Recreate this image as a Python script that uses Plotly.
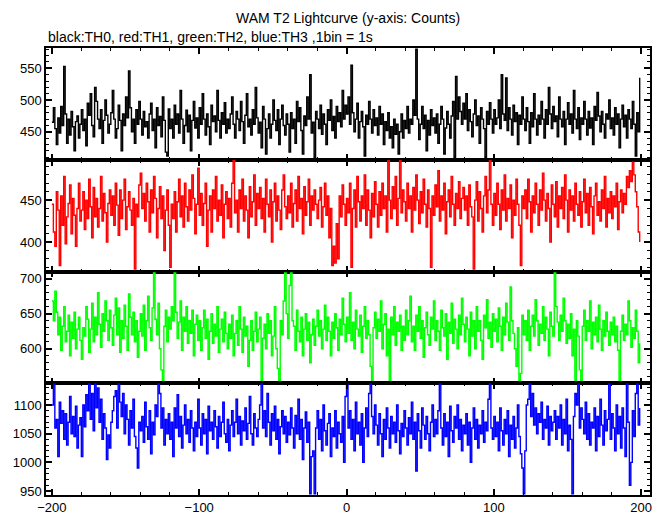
import plotly.graph_objects as go
from plotly.subplots import make_subplots

time_s = list(range(-200, 200))

th0 = [
465, 488, 455, 430, 472, 448, 490, 460, 553, 478, 432, 470, 445, 482, 458, 420, 466, 475, 440, 462,
485, 452, 470, 428, 495, 476, 510, 460, 442, 520, 498, 470, 455, 485, 432, 468, 500, 476, 448, 462,
480, 515, 470, 440, 455, 492, 468, 420, 478, 460, 505, 472, 546, 488, 450, 470, 432, 485, 462, 498,
470, 445, 482, 458, 466, 440, 478, 495, 452, 470, 425, 488, 460, 474, 442, 505, 468, 418, 412, 486,
455, 470, 440, 492, 462, 478, 448, 515, 470, 432, 460, 484, 450, 476, 420, 468, 498, 456, 472, 440,
488, 462, 510, 470, 445, 478, 458, 430, 492, 466, 475, 450, 515, 468, 440, 480, 462, 496, 448, 470,
455, 478, 505, 462, 440, 482, 470, 452, 498, 466, 432, 476, 510, 458, 470, 445, 485, 462, 520, 472,
448, 465, 425, 490, 470, 415, 455, 478, 440, 462, 500, 468, 452, 485, 430, 470, 492, 460, 445, 478,
462, 418, 480, 455, 470, 432, 498, 466, 488, 452, 415, 475, 460, 505, 470, 540, 448, 465, 410, 482,
470, 455, 492, 446, 478, 462, 430, 485, 468, 500, 452, 474, 440, 490, 466, 480, 458, 515, 470, 492,
478, 505, 462, 555, 480, 450, 470, 495, 440, 466, 482, 458, 412, 476, 462, 498, 470, 448, 485, 460,
472, 445, 490, 462, 478, 430, 466, 452, 480, 440, 458, 425, 470, 446, 462, 415, 450, 478, 440, 468,
455, 490, 448, 470, 462, 500, 476, 580, 470, 438, 462, 490, 455, 476, 420, 468, 445, 485, 460, 472,
448, 478, 432, 462, 490, 470, 415, 456, 482, 462, 440, 475, 498, 410, 537, 470, 505, 482, 462, 495,
470, 510, 452, 485, 466, 442, 478, 500, 460, 475, 432, 488, 470, 455, 410, 482, 462, 496, 470, 448,
485, 462, 472, 500, 455, 540, 478, 468, 535, 452, 488, 470, 445, 492, 466, 480, 430, 476, 462, 505,
470, 452, 488, 466, 432, 480, 458, 510, 470, 445, 476, 462, 498, 470, 440, 485, 462, 520, 478, 455,
490, 466, 475, 442, 505, 470, 458, 482, 430, 470, 496, 462, 478, 448, 515, 470, 455, 488, 438, 472,
462, 498, 470, 445, 482, 456, 472, 430, 490, 468, 512, 475, 450, 482, 462, 440, 478, 470, 500, 455,
472, 445, 488, 462, 478, 425, 470, 492, 458, 476, 440, 485, 470, 455, 498, 462, 412, 480, 450, 535,
]

th1 = [
445, 412, 395, 460, 438, 372, 455, 420, 478, 398, 430, 446, 468, 410, 452, 432, 395, 440, 470, 425,
438, 460, 415, 450, 428, 475, 442, 405, 465, 430, 452, 418, 440, 478, 425, 458, 435, 400, 446, 462,
432, 455, 420, 470, 444, 408, 462, 428, 450, 475, 415, 442, 460, 438, 420, 452, 368, 445, 430, 468,
482, 440, 458, 425, 470, 448, 412, 462, 435, 478, 452, 405, 440, 466, 428, 455, 390, 438, 462, 420,
370, 445, 428, 460, 412, 448, 475, 430, 455, 418, 470, 442, 425, 462, 438, 480, 452, 410, 445, 488,
432, 458, 420, 446, 470, 395, 438, 455, 412, 462, 440, 478, 425, 450, 432, 468, 405, 445, 460, 428,
452, 418, 470, 498, 435, 450, 412, 462, 440, 475, 425, 455, 438, 405, 466, 430, 448, 480, 420, 458,
440, 465, 428, 452, 412, 475, 445, 430, 462, 400, 448, 470, 425, 455, 438, 415, 462, 480, 442, 428,
455, 435, 470, 418, 446, 462, 425, 478, 440, 452, 410, 466, 432, 448, 475, 420, 455, 438, 462, 445,
428, 450, 465, 418, 442, 470, 432, 455, 405, 440, 372, 395, 375, 422, 380, 455, 430, 468, 445, 420,
452, 435, 470, 370, 440, 462, 418, 478, 448, 425, 455, 440, 480, 420, 462, 438, 405, 458, 430, 472,
445, 418, 460, 432, 470, 440, 455, 412, 498, 450, 428, 466, 440, 478, 420, 452, 498, 435, 462, 448,
425, 470, 440, 455, 412, 465, 438, 480, 450, 422, 460, 435, 475, 445, 418, 462, 440, 370, 455, 432,
468, 442, 485, 425, 455, 438, 470, 410, 448, 462, 430, 478, 445, 420, 458, 440, 472, 428, 452, 465,
438, 455, 420, 468, 442, 430, 368, 450, 472, 425, 460, 440, 412, 455, 478, 435, 462, 498, 445, 420,
458, 432, 470, 445, 415, 462, 438, 480, 425, 452, 440, 468, 405, 450, 432, 475, 445, 420, 372, 455,
440, 462, 428, 475, 448, 412, 455, 435, 470, 445, 420, 462, 438, 482, 450, 425, 458, 440, 400, 468,
445, 430, 472, 418, 455, 440, 465, 428, 480, 450, 412, 462, 438, 455, 425, 470, 445, 432, 460, 418,
448, 475, 435, 458, 420, 465, 442, 410, 455, 470, 432, 448, 425, 462, 440, 478, 418, 452, 435, 460,
428, 455, 442, 470, 415, 448, 462, 435, 458, 445, 478, 465, 485, 472, 495, 480, 460, 442, 412, 400,
]

th2 = [
668, 640, 682, 652, 620, 645, 598, 632, 660, 610, 625, 648, 590, 638, 615, 652, 600, 628, 645, 612,
585, 630, 618, 660, 642, 595, 628, 665, 610, 645, 620, 680, 635, 602, 650, 625, 668, 640, 612, 655,
630, 605, 648, 672, 620, 658, 595, 640, 615, 662, 632, 598, 678, 645, 620, 652, 610, 640, 588, 625,
650, 618, 662, 598, 640, 675, 630, 612, 658, 708, 642, 620, 665, 600, 570, 555, 632, 655, 610, 645,
628, 660, 640, 708, 652, 615, 638, 668, 598, 645, 625, 660, 608, 640, 622, 655, 590, 635, 648, 612,
640, 598, 630, 655, 615, 642, 585, 625, 650, 608, 635, 618, 660, 595, 628, 642, 610, 652, 622, 600,
635, 615, 648, 590, 622, 640, 605, 660, 628, 595, 645, 618, 632, 575, 612, 640, 598, 625, 652, 610,
628, 645, 555, 615, 635, 600, 650, 622, 640, 590, 618, 660, 600, 572, 555, 640, 620, 668, 708, 650,
615, 690, 708, 640, 632, 598, 655, 625, 610, 645, 590, 628, 650, 612, 638, 580, 620, 642, 605, 632,
655, 618, 640, 600, 628, 662, 612, 645, 625, 590, 638, 615, 650, 630, 598, 642, 620, 672, 635, 610,
645, 622, 680, 612, 638, 600, 655, 628, 618, 648, 595, 632, 660, 615, 640, 620, 575, 555, 630, 652,
615, 642, 625, 668, 600, 635, 650, 590, 628, 555, 645, 620, 660, 605, 638, 625, 648, 598, 632, 612,
655, 620, 640, 675, 610, 632, 598, 648, 625, 660, 615, 640, 588, 630, 652, 620, 605, 645, 628, 668,
612, 640, 625, 598, 655, 630, 618, 650, 585, 638, 622, 665, 608, 642, 628, 600, 648, 620, 672, 635,
610, 645, 628, 590, 652, 618, 640, 600, 660, 625, 640, 612, 585, 648, 630, 670, 615, 638, 602, 650,
625, 642, 610, 658, 632, 598, 645, 620, 665, 638, 612, 688, 640, 622, 600, 575, 630, 555, 565, 648,
620, 640, 612, 655, 598, 632, 648, 618, 670, 640, 605, 635, 622, 660, 612, 645, 628, 590, 652, 632,
618, 708, 660, 638, 612, 648, 625, 672, 640, 608, 635, 615, 650, 590, 628, 555, 640, 618, 570, 555,
632, 655, 612, 640, 625, 668, 600, 638, 620, 645, 610, 662, 628, 598, 640, 618, 652, 625, 605, 638,
620, 645, 610, 632, 598, 555, 625, 648, 612, 635, 620, 668, 640, 602, 630, 615, 655, 625, 580, 608,
]

th3 = [
1100, 1138, 1060, 1075, 1010, 1105, 1068, 1090, 1040, 1085, 1030, 1070, 1115, 1050, 1080, 1045, 1098, 1025, 1065, 1078,
1010, 1100, 1062, 1118, 1090, 1138, 1075, 1120, 1055, 1138, 1095, 1130, 1070, 1110, 1040, 1085, 1060, 1005, 1048, 1025,
1070, 1090, 1115, 1125, 1060, 1138, 1105, 1080, 1120, 1050, 1100, 1075, 1030, 1090, 1060, 1110, 1045, 1025, 990, 1070,
1055, 1080, 1035, 1105, 1062, 1040, 1090, 1015, 1070, 1048, 1100, 1080, 1138, 1120, 1060, 1095, 1030, 1075, 1050, 1085,
1040, 1070, 1010, 1095, 1060, 1118, 1045, 1080, 1025, 1065, 1100, 1050, 1075, 1035, 1090, 1060, 1020, 1070, 1045, 1110,
1060, 1030, 1085, 1050, 1075, 1015, 1098, 1055, 1070, 1040, 1090, 1062, 1025, 1080, 1045, 1070, 1105, 1050, 1035, 1075,
1020, 1065, 1090, 1045, 1070, 1110, 1050, 1080, 1030, 1072, 1055, 1095, 1040, 1068, 1115, 1050, 1030, 1085, 1060, 1045,
1075, 1100, 1138, 1060, 1090, 1045, 1120, 1070, 1030, 1085, 1055, 1098, 1040, 1075, 1015, 1062, 1090, 1050, 1080, 1035,
1070, 1048, 1095, 1060, 1025, 1082, 1050, 1110, 1040, 1075, 1005, 1060, 1088, 1035, 1070, 945, 1010, 1020, 945, 1060,
1090, 1040, 1075, 1020, 1100, 1055, 1030, 1068, 1085, 1010, 1060, 1045, 1090, 1025, 1070, 1050, 1035, 1080, 1000, 1115,
1138, 1060, 1090, 1040, 1075, 1020, 1105, 1050, 1070, 1030, 1085, 1000, 1060, 1095, 1045, 1120, 1138, 1080, 1050, 1100,
1065, 1030, 1085, 1050, 1010, 1075, 1040, 1095, 1060, 1025, 1080, 1050, 1070, 1035, 1100, 1055, 1015, 1068, 1045, 1090,
1060, 1030, 1078, 1050, 1105, 1040, 1070, 985, 1085, 1055, 1025, 1095, 1065, 1040, 1080, 1050, 1020, 1070, 1100, 1045,
1075, 1050, 1090, 1138, 1060, 1030, 1085, 1045, 1070, 1010, 1098, 1055, 1035, 1080, 1060, 1100, 1040, 1075, 1020, 1065,
1050, 1085, 1030, 1070, 1000, 1060, 1095, 1040, 1075, 1025, 1065, 1050, 1090, 1035, 1070, 1055, 1110, 1138, 1060, 1040,
1080, 1045, 1070, 1020, 1095, 1055, 1030, 1075, 1050, 1090, 1010, 1065, 1040, 1080, 1025, 1060, 1100, 1045, 1015, 990,
945, 1020, 1100, 1110, 1138, 1080, 1120, 1065, 1095, 1050, 1085, 1070, 1105, 1040, 1075, 1060, 1098, 1030, 1080, 1055,
1070, 1090, 1040, 1080, 1060, 1100, 1030, 1075, 1050, 1110, 1020, 1065, 1040, 945, 1080, 1120, 1100, 1138, 1060, 1095,
1075, 1050, 1105, 1040, 1085, 1030, 1070, 1060, 1095, 1020, 1080, 1045, 1110, 1065, 1030, 1090, 1055, 1075, 1138, 1040,
1085, 1060, 1020, 1100, 1050, 1080, 1025, 1095, 1060, 1010, 1138, 1070, 960, 1000, 1090, 1045, 1120, 1138, 1065, 1095,
]

series = [th0, th1, th2, th3]
colors = ["#000000", "#ff0000", "#00ff00", "#0000ff"]
y_ranges = [[406, 582], [365, 498], [551, 710], [943, 1138]]
x_range = [-204, 206]

fig = make_subplots(rows=4, cols=1, shared_xaxes=True, vertical_spacing=0)

for i, (vals, col) in enumerate(zip(series, colors)):
    fig.add_trace(go.Scatter(x=time_s, y=vals, mode="lines",
                             line=dict(color=col, width=1.4, shape="hv"),
                             showlegend=False, hoverinfo="skip"),
                  row=i + 1, col=1)

axis_common = dict(showline=True, linecolor="black", linewidth=1.5, mirror="ticks",
                   ticks="inside", ticklen=6, tickwidth=2, tickcolor="black",
                   showgrid=False, zeroline=False, automargin=False,
                   tickfont=dict(family="Liberation Sans, Arial, sans-serif", size=13, color="black"))

for i in range(4):
    fig.update_xaxes(range=x_range, dtick=100, tick0=0,
                     minor=dict(dtick=20, ticks="inside", ticklen=3, tickcolor="black", tickwidth=1),
                     showticklabels=(i == 3), row=i + 1, col=1, **axis_common)
    fig.update_yaxes(range=y_ranges[i], dtick=50, tick0=0,
                     minor=dict(dtick=10, ticks="inside", ticklen=3, tickcolor="black", tickwidth=1),
                     row=i + 1, col=1, **axis_common)

# page body keeps an 8px default margin, so the figure is 8px smaller each way
fig.update_layout(
    width=661, height=507,
    margin=dict(l=38, r=19, t=40, b=20),
    paper_bgcolor="white", plot_bgcolor="white",
    font=dict(family="Liberation Sans, Arial, sans-serif", size=14, color="black"),
    annotations=[
        dict(text="WAM T2 Lightcurve (y-axis: Counts)", xref="paper", yref="paper",
             x=0.5, y=1, yshift=20, xanchor="center", yanchor="bottom",
             showarrow=False, font=dict(size=14)),
        dict(text="black:TH0, red:TH1, green:TH2, blue:TH3 ,1bin = 1s", xref="paper", yref="paper",
             x=0, y=1, yshift=1, xanchor="left", yanchor="bottom",
             showarrow=False, font=dict(size=14)),
    ],
)

fig.write_html("out.html")
